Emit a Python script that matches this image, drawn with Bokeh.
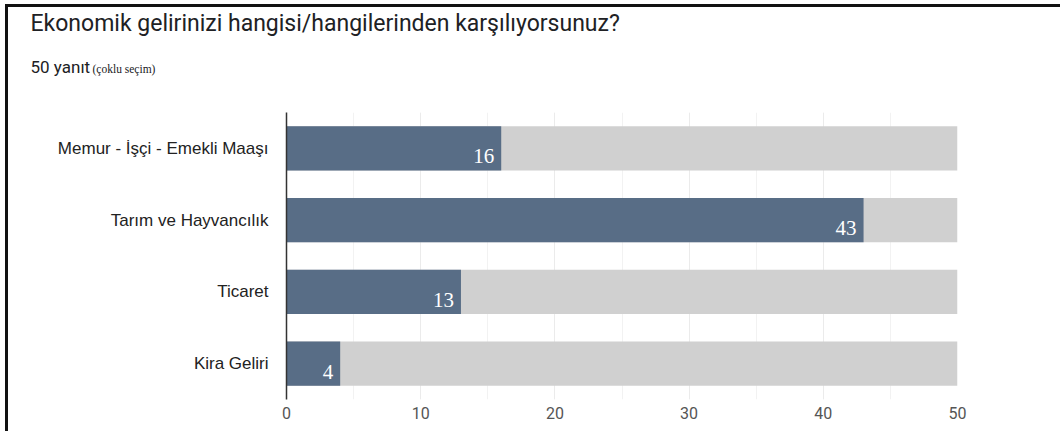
from bokeh.plotting import figure
from bokeh.models import ColumnDataSource, SingleIntervalTicker, Range1d, FactorRange, Title
from bokeh.core.properties import value
from bokeh.embed import file_html
from bokeh.resources import INLINE

# ---- data ----
categories = ["Memur - İşçi - Emekli Maaşı", "Tarım ve Hayvancılık", "Ticaret", "Kira Geliri"]
counts = [16, 43, 13, 4]
total_responses = 50
title_text = "Ekonomik gelirinizi hangisi/hangilerinden karşılıyorsunuz?"
subtitle_main = "50 yanıt"
subtitle_note = "(çoklu seçim)"

factors = list(reversed(categories))
src = ColumnDataSource(dict(
    cat=categories,
    val=counts,
    total=[total_responses] * len(categories),
    lab=[str(v) for v in counts],
))

p = figure(
    y_range=FactorRange(factors=factors),
    x_range=Range1d(0, total_responses),
    frame_width=671, frame_height=287,
    min_border_left=278, min_border_top=104, min_border_right=103, min_border_bottom=33,
    output_backend="svg", toolbar_location=None, title=None,
    styles={"border-left": "3px solid #111", "border-top": "3px solid #111",
            "margin-left": "5px", "margin-top": "4px"},
)
p.outline_line_color = None
p.background_fill_color = "white"
p.border_fill_color = "white"

p.hbar(y="cat", right="total", left=0, height=0.62, source=src,
       fill_color="#d0d0d0", line_color=None)
p.hbar(y="cat", right="val", left=0, height=0.62, source=src,
       fill_color="#586d86", line_color=None)
p.text(x="val", y="cat", text="lab", source=src,
       text_align="right", text_baseline="middle", x_offset=-7, y_offset=8,
       text_color="white", text_font=value("Liberation Serif"), text_font_size="21px")

# axes
p.xaxis.ticker = SingleIntervalTicker(interval=10, num_minor_ticks=2)
p.xaxis.axis_line_color = None
p.xaxis.major_tick_line_color = None
p.xaxis.minor_tick_line_color = None
p.xaxis.major_label_text_font = "Roboto"
p.xaxis.major_label_text_font_size = "16px"
p.xaxis.major_label_text_color = "#555555"
p.xaxis.major_label_standoff = 1

p.yaxis.axis_line_color = "#333333"
p.yaxis.axis_line_width = 1.5
p.yaxis.major_tick_line_color = None
p.yaxis.minor_tick_line_color = None
p.yaxis.major_label_text_font = "Liberation Sans"
p.yaxis.major_label_text_font_size = "17px"
p.yaxis.major_label_text_color = "#222222"
p.yaxis.major_label_standoff = 12

p.xgrid.grid_line_color = "#ebebeb"
p.xgrid.minor_grid_line_color = "#f2f2f2"
p.ygrid.grid_line_color = None

# header (first added sits closest to the frame)
p.add_layout(Title(text=" ", text_font_size="1px", standoff=33), "above")
p.add_layout(Title(text=subtitle_main, align="left", offset=-256, standoff=0,
                   text_font="Roboto", text_font_size="17px", text_font_style="normal",
                   text_color="#202124"), "above")
p.add_layout(Title(text=subtitle_note, align="left", offset=-194, standoff=-40,
                   text_font="Liberation Serif", text_font_size="11.5px",
                   text_font_style="normal", text_color="#202124"), "above")
p.add_layout(Title(text=" ", text_font_size="1px", standoff=15), "above")
p.add_layout(Title(text=title_text, align="left", offset=-256, standoff=0,
                   text_font="Roboto", text_font_size="23px", text_font_style="normal",
                   text_color="#202124"), "above")

open("out.html", "w").write(file_html(p, INLINE))
